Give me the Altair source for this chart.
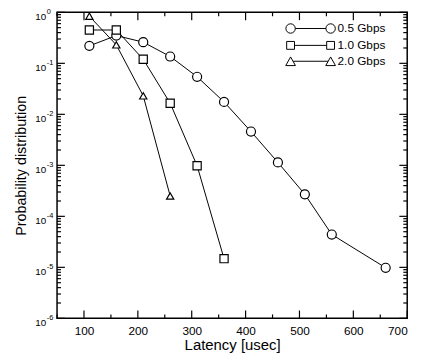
import altair as alt
import pandas as pd

# ---- data ----
series_names = ["0.5 Gbps", "1.0 Gbps", "2.0 Gbps"]
latency_05 = [110, 160, 210, 260, 310, 360, 410, 460, 510, 560, 660]
prob_05 = [0.22, 0.35, 0.26, 0.136, 0.0545, 0.0175, 0.0046, 0.00114, 0.00027, 0.000044, 0.0000098]
latency_10 = [110, 160, 210, 260, 310, 360]
prob_10 = [0.45, 0.45, 0.12, 0.0165, 0.00098, 0.0000148]
latency_20 = [110, 160, 210, 260]
prob_20 = [0.84, 0.23, 0.023, 0.00025]

x_major = [100, 200, 300, 400, 500, 600, 700]
x_minor = [50, 150, 250, 350, 450, 550, 650]
y_major = [1e-6, 1e-5, 1e-4, 1e-3, 1e-2, 1e-1, 1.0]
y_minor = [k * 10.0 ** e for e in range(-6, 0) for k in range(2, 10)]
exponent_labels = ["-6", "-5", "-4", "-3", "-2", "-1", "0"]

rows = []
for name, xs, ys in zip(series_names, [latency_05, latency_10, latency_20], [prob_05, prob_10, prob_20]):
    for a, b in zip(xs, ys):
        rows.append({"series": name, "latency": a, "prob": b})
df = pd.DataFrame(rows)

tick_rows = (
    [{"axis": "x", "kind": "major", "v": v} for v in x_major]
    + [{"axis": "x", "kind": "minor", "v": v} for v in x_minor]
    + [{"axis": "y", "kind": "major", "v": v} for v in y_major]
    + [{"axis": "y", "kind": "minor", "v": v} for v in y_minor]
)
tick_df = pd.DataFrame(tick_rows)

# ---- style ----
FONT = "Liberation Sans"
W, H = 357, 312
MAJ, MIN = 8, 4
xscale = alt.Scale(domain=[50, 700], nice=False, zero=False)
yscale = alt.Scale(type="log", domain=[1e-6, 1], nice=False)
base = alt.Chart(df)
tbase = alt.Chart(tick_df)


# inward tick marks on all four sides (positions along the axis come from the scales)
def xticks(kind, length, top):
    centre = length / 2 if top else H - length / 2
    return tbase.transform_filter(
        f"datum.axis == 'x' && datum.kind == '{kind}'"
    ).mark_tick(color="black", thickness=1.2, size=length, orient="vertical", opacity=1).encode(
        x=alt.X("v:Q", scale=xscale, axis=None), y=alt.value(centre))


def yticks(kind, length, right):
    centre = W - length / 2 if right else length / 2
    return tbase.transform_filter(
        f"datum.axis == 'y' && datum.kind == '{kind}'"
    ).mark_tick(color="black", thickness=1.2, size=length, orient="horizontal", opacity=1).encode(
        y=alt.Y("v:Q", scale=yscale, axis=None), x=alt.value(centre))


tick_layers = [
    xticks("major", MAJ, False), xticks("minor", MIN, False),
    xticks("major", MAJ, True), xticks("minor", MIN, True),
    yticks("major", MAJ, False), yticks("minor", MIN, False),
    yticks("major", MAJ, True), yticks("minor", MIN, True),
]

labels_main = base.mark_point(opacity=0).encode(
    x=alt.X("latency:Q", scale=xscale, axis=alt.Axis(
        orient="bottom", values=x_major, ticks=False, tickSize=0, domain=False, grid=False,
        labelFont=FONT, labelFontSize=12, labelColor="black", labelPadding=7,
        title="Latency [usec]", titleFont=FONT, titleFontSize=15.2, titleFontWeight="normal",
        titleColor="black", titlePadding=2)),
    y=alt.Y("prob:Q", scale=yscale, axis=alt.Axis(
        orient="left", values=y_major, ticks=False, tickSize=0, domain=False, grid=False,
        labelExpr="'10'", labelFont=FONT, labelFontSize=10, labelColor="black",
        labelBaseline="middle", labelOffset=4.5, labelPadding=11.5, labelOverlap=False,
        title="Probability distribution", titleFont=FONT, titleFontSize=14.6,
        titleFontWeight="normal", titleColor="black", titlePadding=7)),
)

exp_expr = "[" + ",".join("'%s'" % s for s in exponent_labels) + "][round(log(datum.value)/LN10)+6]"
labels_exp = base.mark_point(opacity=0).encode(
    x=alt.X("latency:Q", scale=xscale, axis=None),
    y=alt.Y("prob:Q", scale=yscale, axis=alt.Axis(
        orient="left", values=y_major, ticks=False, tickSize=0, domain=False, grid=False,
        labelExpr=exp_expr, labelFont=FONT, labelFontSize=7.5, labelColor="black",
        labelAlign="left", labelBaseline="middle", labelOffset=-1, labelPadding=11,
        labelOverlap=False, title=None)),
)

lines = base.mark_line(color="black", strokeWidth=1).encode(
    x=alt.X("latency:Q", scale=xscale, axis=None),
    y=alt.Y("prob:Q", scale=yscale, axis=None),
    detail="series:N",
)

points = base.mark_point(filled=True, fill="white", stroke="black", strokeWidth=1.2, opacity=1).encode(
    x=alt.X("latency:Q", scale=xscale, axis=None),
    y=alt.Y("prob:Q", scale=yscale, axis=None),
    shape=alt.Shape("series:N", scale=alt.Scale(domain=series_names,
                                                 range=["circle", "square", "triangle-up"]), legend=None),
    size=alt.Size("series:N", scale=alt.Scale(domain=series_names, range=[85, 55, 85]), legend=None),
)


# legend symbols: marker - line - marker, as custom SVG paths
def circ(cx, a):
    k = round(0.5523 * a, 4)
    return (f"M{cx+a:.4f},0C{cx+a:.4f},{k} {cx+k:.4f},{a} {cx:.4f},{a}"
            f"C{cx-k:.4f},{a} {cx-a:.4f},{k} {cx-a:.4f},0"
            f"C{cx-a:.4f},{-k} {cx-k:.4f},{-a} {cx:.4f},{-a}"
            f"C{cx+k:.4f},{-a} {cx+a:.4f},{-k} {cx+a:.4f},0Z")


def sq(cx, h):
    return f"M{cx-h:.4f},{-h}L{cx+h:.4f},{-h}L{cx+h:.4f},{h}L{cx-h:.4f},{h}Z"


def tri(cx, a, b):
    return f"M{cx:.4f},{-b}L{cx+a:.4f},{b}L{cx-a:.4f},{b}Z"


c = 2.55
p_circle = circ(-c, 0.6) + circ(c, 0.6) + f"M{-c+0.6:.4f},0L{c-0.6:.4f},0"
p_square = sq(-c, 0.5) + sq(c, 0.5) + f"M{-c+0.5:.4f},0L{c-0.5:.4f},0"
p_tri = tri(-c, 0.62, 0.55) + tri(c, 0.62, 0.55) + f"M{-c+0.33:.4f},0L{c-0.33:.4f},0"

legend_layer = base.mark_point(filled=False, stroke="black", strokeWidth=1, opacity=1).encode(
    x=alt.X("latency:Q", scale=xscale, axis=None),
    y=alt.Y("prob:Q", scale=yscale, axis=None),
    shape=alt.Shape("series:N", scale=alt.Scale(domain=series_names,
                                                 range=[p_circle, p_square, p_tri]),
                    legend=alt.Legend(title=None, orient="none", legendX=250, legendY=8,
                                      symbolSize=256, symbolStrokeColor="black",
                                      symbolStrokeWidth=1, symbolOpacity=1,
                                      labelFont=FONT, labelFontSize=12, labelColor="black",
                                      labelOffset=19, rowPadding=1.2, padding=0)),
).transform_filter("datum.prob < 0")

chart = alt.layer(labels_main, labels_exp, lines, points, legend_layer, *tick_layers).resolve_axis(
    x="independent", y="independent"
).resolve_scale(shape="independent", size="independent").resolve_legend(
    shape="independent"
).properties(
    width=W, height=H,
    autosize=alt.AutoSizeParams(type="none"),
    padding={"left": 50, "top": 1, "right": 11, "bottom": 36},
    background="white",
).configure_view(stroke="black", strokeWidth=1.5)

chart.save("out.html", embed_options={"renderer": "svg", "actions": False})
